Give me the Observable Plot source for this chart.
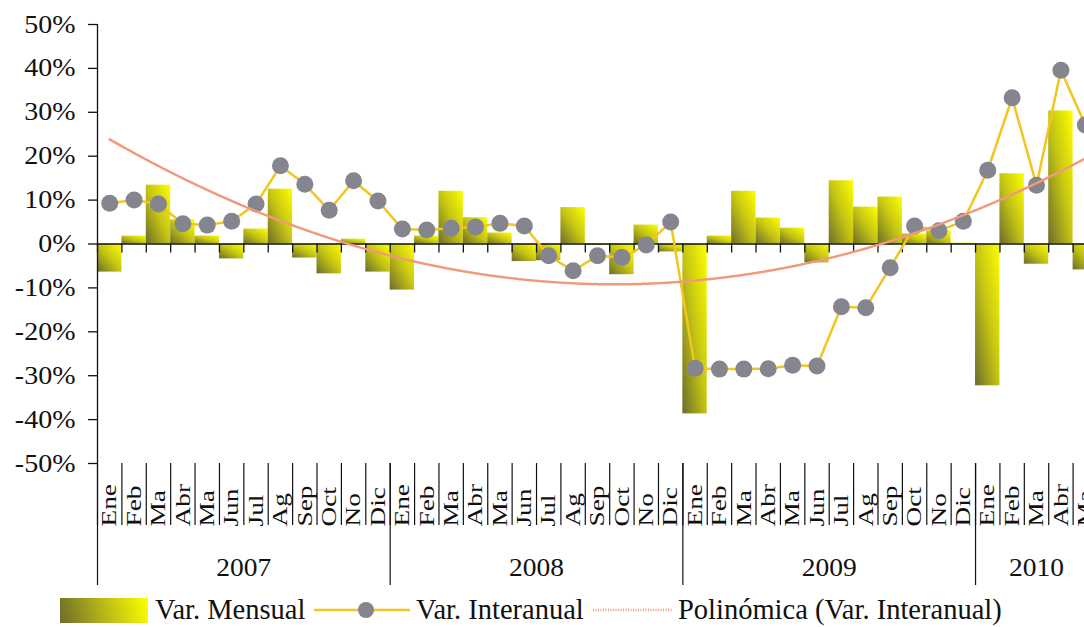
<!DOCTYPE html>
<html>
<head>
<meta charset="utf-8">
<script src="https://cdn.jsdelivr.net/npm/d3@7"></script>
<script src="https://cdn.jsdelivr.net/npm/@observablehq/plot@0.6"></script>
<style>
  html, body { margin: 0; padding: 0; background: #fff; overflow: hidden; }
  #chart { position: relative; width: 1100px; }
  #legend { position: absolute; left: 0; top: 595px; width: 1084px; height: 30px;
            font-family: "Liberation Serif", serif; font-size: 28.5px; color: #111; white-space: nowrap; }
  #legend > * { position: absolute; top: 0; }
  #legend .txt { display: inline-block; line-height: 30px; }
</style>
</head>
<body>
<div id="chart"></div>
<div id="legend">
  <span style="left:60px;top:3px;width:88px;height:25px;background:linear-gradient(75deg,#6c6c2c 0%,#b8b818 50%,#ffff00 100%);"></span>
  <span class="txt" style="left:155px;">Var. Mensual</span>
  <svg width="96" height="30" style="left:314px;">
    <line x1="0" y1="15" x2="96" y2="15" stroke="#f2c51f" stroke-width="2.5"/>
    <circle cx="52" cy="15" r="8" fill="#858590"/>
  </svg>
  <span class="txt" style="left:416px;">Var. Interanual</span>
  <svg width="80" height="30" style="left:593px;">
    <line x1="0" y1="15" x2="80" y2="15" stroke="#f09a7a" stroke-width="2.6" stroke-dasharray="1 1.5"/>
  </svg>
  <span class="txt" style="left:678px;">Polinómica (Var. Interanual)</span>
</div>
<script>
const years = ["2007", "2008", "2009", "2010"];
const monthLabels = ["Ene","Feb","Ma","Abr","Ma","Jun","Jul","Ag","Sep","Oct","No","Dic"];
const yTicks = [-50, -40, -30, -20, -10, 0, 10, 20, 30, 40, 50];
const varMensual = [
  -6.4, 1.8, 13.4, 5.5, 1.8, -3.4, 3.4, 12.5, -3.2, -6.8, 1.1, -6.4,
  -10.5, 1.8, 12.0, 6.0, 2.5, -4.0, -3.8, 8.3, -0.3, -7.0, 4.3, -1.8,
  -38.7, 1.8, 12.0, 5.9, 3.6, -4.3, 14.4, 8.4, 10.7, 2.3, 3.0, 0.2,
  -32.3, 16.0, -4.6, 30.3, -5.9
];
const varInteranual = [
  9.3, 10.0, 9.1, 4.6, 4.3, 5.2, 9.1, 17.8, 13.6, 7.7, 14.4, 9.8,
  3.4, 3.2, 3.6, 3.9, 4.7, 4.1, -2.7, -6.1, -2.7, -3.1, -0.2, 5.0,
  -28.3, -28.5, -28.5, -28.4, -27.6, -27.8, -14.3, -14.5, -5.4, 4.1, 3.0, 5.2,
  16.8, 33.3, 13.4, 39.6, 27.1
];

const data = varMensual.map((m, i) => ({
  i, mensual: m, interanual: varInteranual[i],
  month: monthLabels[i % 12], year: years[Math.floor(i / 12)]
}));

// Polynomial (order 2) least-squares trendline of Var. Interanual, as in the spreadsheet
function quadFit(xs, ys) {
  const S = Array.from({length: 5}, (_, k) => d3.sum(xs, x => x ** k));
  const T = Array.from({length: 3}, (_, k) => d3.sum(xs, (x, j) => ys[j] * x ** k));
  const A = [[S[0], S[1], S[2], T[0]], [S[1], S[2], S[3], T[1]], [S[2], S[3], S[4], T[2]]];
  for (let c = 0; c < 3; c++) {
    for (let r = c + 1; r < 3; r++) {
      const f = A[r][c] / A[c][c];
      for (let k = c; k < 4; k++) A[r][k] -= f * A[c][k];
    }
  }
  const b = [0, 0, 0];
  for (let r = 2; r >= 0; r--) {
    let s = A[r][3];
    for (let k = r + 1; k < 3; k++) s -= A[r][k] * b[k];
    b[r] = s / A[r][r];
  }
  return x => b[0] + b[1] * x + b[2] * x * x;
}
const fit = quadFit(data.map(d => d.i), varInteranual);
const trend = d3.range(0, data.length - 1 + 0.001, 0.25).map(x => ({x, y: fit(x)}));

const boundaries = data.map(d => d.i - 0.5);
const yearGroups = years.map(y => {
  const idx = data.filter(d => d.year === y).map(d => d.i);
  return {year: y, start: d3.min(idx) - 0.5, mid: d3.mean(idx)};
});

const serif = "Liberation Serif";
const plot = Plot.plot({
  width: 1100,
  height: 590,
  marginLeft: 97,
  marginRight: 3,
  marginTop: 24,
  marginBottom: 127,
  style: {fontFamily: serif, background: "white", color: "#111"},
  x: {type: "linear", domain: [-0.5, data.length - 0.5], axis: null},
  y: {domain: [-50, 50], axis: null},
  marks: [
    Plot.axisY(yTicks, {tickFormat: d => d + "%", tickSize: 9, tickPadding: 13, fontSize: 25, fontFamily: serif, stroke: "#111", strokeWidth: 1.3, className: "ylab"}),
    Plot.rectY(data, {x1: d => d.i - 0.5, x2: d => d.i + 0.5, y1: 0, y2: "mensual", fill: "url(#barGrad)"}),
    Plot.ruleY([0], {stroke: "#111", strokeWidth: 1.6}),
    Plot.ruleX(boundaries, {x: d => d, y1: 0, y2: 0, insetBottom: -9, stroke: "#111", strokeWidth: 1.3}),
    Plot.ruleX([boundaries[0]], {x: d => d, y1: -50, y2: 50, stroke: "#111", strokeWidth: 1.3}),
    Plot.ruleX(boundaries, {x: d => d, y1: -50, y2: -50, insetBottom: -62, stroke: "#111", strokeWidth: 1.2}),
    Plot.ruleX(yearGroups, {x: "start", y1: -50, y2: -50, insetBottom: -122, stroke: "#111", strokeWidth: 1.2}),
    Plot.text(data, {x: "i", text: "month", frameAnchor: "bottom", dy: 63, rotate: -90, textAnchor: "start", lineAnchor: "middle", fontSize: 21, fontFamily: serif, fill: "#111", className: "mlab"}),
    Plot.text(yearGroups, {x: "mid", text: "year", frameAnchor: "bottom", dy: 104, lineAnchor: "middle", fontSize: 25, fontFamily: serif, fill: "#111", className: "yrlab"}),
    Plot.line(data, {x: "i", y: "interanual", stroke: "#f2c51f", strokeWidth: 2.5}),
    Plot.dot(data, {x: "i", y: "interanual", r: 8.5, fill: "#858590", stroke: "none"}),
    Plot.line(trend, {x: "x", y: "y", stroke: "#f09a7a", strokeWidth: 2.5, strokeDasharray: "1 1.5", curve: "linear"})
  ]
});

plot.insertAdjacentHTML("afterbegin",
  `<defs><linearGradient id="barGrad" x1="0" y1="1" x2="1" y2="0">
     <stop offset="0" stop-color="#6c6c2c"/>
     <stop offset="0.5" stop-color="#c4c414"/>
     <stop offset="1" stop-color="#ffff00"/>
   </linearGradient></defs>`);
document.getElementById("chart").appendChild(plot);

// The reference's serif lettering is drawn wider than the font's natural widths: stretch along the text direction
const stretch = [[".ylab", 1.12], [".mlab", 1.3], [".yrlab", 1.1]];
for (const [sel, k] of stretch) {
  plot.querySelectorAll(`${sel} text`).forEach(t => {
    const len = t.getComputedTextLength();
    t.setAttribute("textLength", (len * k).toFixed(1));
    t.setAttribute("lengthAdjust", "spacingAndGlyphs");
  });
}
</script>
</body>
</html>
